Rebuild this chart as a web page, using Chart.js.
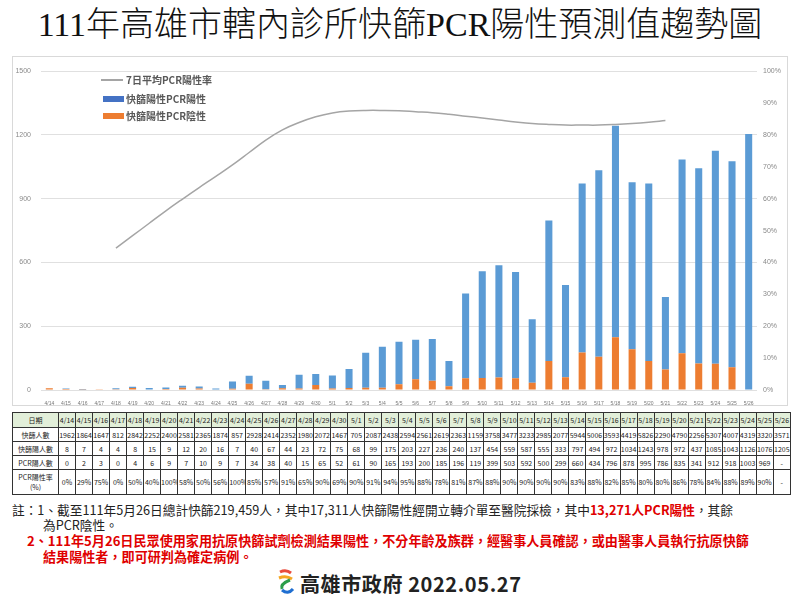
<!DOCTYPE html>
<html>
<head>
<meta charset="utf-8">
<script src="https://cdn.jsdelivr.net/npm/chart.js@4.4.0/dist/chart.umd.min.js"></script>
<style>
  body { margin: 0; width: 800px; height: 600px; background: #fff; position: relative; overflow: hidden;
         font-family: "Noto Sans CJK TC", "Noto Sans", sans-serif; }
  #title { position: absolute; left: 0; top: 3px; width: 800px; text-align: center; font-size: 34px;
           font-family: "Liberation Serif", "Noto Sans CJK TC", serif; font-weight: 300; color: #111; line-height: 44px; }
  #box { position: absolute; left: 12px; top: 56px; width: 774px; height: 348px; border: 1px solid #d9d9d9; }
  #chartWrap { position: absolute; left: 0; top: 0; width: 774px; height: 348px; }
  .lg { position: absolute; font-size: 10px; font-weight: bold; color: #595959; line-height: 12px; white-space: nowrap; }
  .sw { position: absolute; }
  #tbl { position: absolute; left: 12px; top: 412px; border-collapse: collapse; table-layout: fixed; width: 779px; }
  #tbl td { border: 1px solid #333; font-size: 7px; text-align: center; padding: 0; color: #222; overflow: hidden; white-space: nowrap; }
  #tbl tr.hd td { background: #e2efd9; }
  .note { position: absolute; font-size: 12.7px; color: #222; white-space: nowrap; line-height: 16px; }
  .red { color: #e00000; font-weight: bold; }
  .note.red { font-size: 13.1px; }
  #footer { position: absolute; left: 300px; top: 569px; font-size: 20px; font-weight: bold; color: #222; letter-spacing: 0.6px; }
</style>
</head>
<body>
<div id="title">111年高雄市轄內診所快篩PCR陽性預測值趨勢圖</div>
<div id="box">
  <div id="chartWrap"><canvas id="myChart"></canvas></div>
  <div class="sw" style="left:88px;top:22px;width:22px;height:2px;background:#a5a5a5"></div>
  <div class="lg" style="left:113px;top:17px">7日平均PCR陽性率</div>
  <div class="sw" style="left:90px;top:39px;width:21px;height:6px;background:#4472c4"></div>
  <div class="lg" style="left:113px;top:36px">快篩陽性PCR陽性</div>
  <div class="sw" style="left:90px;top:56px;width:21px;height:6px;background:#ed7d31"></div>
  <div class="lg" style="left:113px;top:53px">快篩陽性PCR陰性</div>
</div>
<table id="tbl"></table>
<div class="note" style="left:12px;top:502px">註：1、截至111年5月26日總計快篩219,459人，其中17,311人快篩陽性經開立轉介單至醫院採檢，其中<span class="red">13,271人PCR陽性</span>，其餘</div>
<div class="note" style="left:43px;top:517px">為PCR陰性。</div>
<div class="note red" style="left:27px;top:533px">2、111年5月26日民眾使用家用抗原快篩試劑檢測結果陽性，不分年齡及族群，經醫事人員確認，或由醫事人員執行抗原快篩</div>
<div class="note red" style="left:43px;top:549px">結果陽性者，即可研判為確定病例。</div>
<svg style="position:absolute;left:276px;top:569px" width="20" height="27" viewBox="0 0 20 27">
  <path d="M4 3 Q10 0 15 4" stroke="#e94b3c" stroke-width="3" fill="none"/>
  <path d="M3 9 Q10 6 16 10" stroke="#f5a623" stroke-width="3" fill="none"/>
  <path d="M14 11 Q4 15 6 20" stroke="#2a9d4a" stroke-width="3" fill="none"/>
  <path d="M6 21 Q12 26 17 20" stroke="#1f6fd1" stroke-width="3" fill="none"/>
</svg>
<div id="footer">高雄市政府 2022.05.27</div>

<script>
// dates and table rows
var dates = ['4/14','4/15','4/16','4/17','4/18','4/19','4/20','4/21','4/22','4/23','4/24','4/25','4/26','4/27','4/28','4/29','4/30',
  '5/1','5/2','5/3','5/4','5/5','5/6','5/7','5/8','5/9','5/10','5/11','5/12','5/13','5/14','5/15','5/16','5/17','5/18','5/19','5/20',
  '5/21','5/22','5/23','5/24','5/25','5/26'];
var rapidTested = [1962,1864,1647,812,2842,2252,2400,2581,2365,1874,857,2928,2414,2352,1980,2072,1467,
  705,2087,2438,2594,2561,2619,2363,1159,3758,3477,3233,2985,2077,5944,5006,3593,4419,5826,2290,4790,
  2256,5307,4007,4319,3320,3571];
var rapidPositive = [8,7,4,4,8,15,9,12,20,16,7,40,67,44,23,72,75,
  68,99,175,203,227,236,240,137,454,559,587,555,333,797,494,972,1034,1243,978,972,
  437,1085,1043,1126,1076,1205];
var pcrPositive = ['0','2','3','0','4','6','9','7','10','9','7','34','38','40','15','65','52',
  '61','90','165','193','200','185','196','119','399','503','592','500','299','660','434','796','878','995','786','835',
  '341','912','918','1003','969','-'];
var pcrRate = ['0%','29%','75%','0%','50%','40%','100%','58%','50%','56%','100%','85%','57%','91%','65%','90%','69%',
  '90%','91%','94%','95%','88%','78%','81%','87%','88%','90%','90%','90%','90%','83%','88%','82%','85%','80%','80%','86%',
  '78%','84%','88%','89%','90%','-'];

// bar heights as drawn in the chart
var barPcrNeg = [8,5,1,4,4,9,0,5,10,7,0,6,29,4,8,7,23,
  7,9,10,10,27,51,44,18,55,56,59,55,34,137,60,176,156,248,192,137,
  96,173,125,123,107,0];
var barPcrPos = [0,2,3,0,4,6,9,7,10,9,7,34,38,40,15,65,52,
  61,90,165,193,200,185,196,119,399,503,528,500,299,660,434,796,878,995,786,835,
  341,912,918,1003,969,1205];
// 7-day average PCR positive rate (%)
var avgRate = [null,null,null,null,44.5,48.4,52.3,56.2,59.9,63.5,67,70.6,74.5,78.4,81.6,83.9,85.7,
  86.9,87.5,87.7,87.7,87.6,87.3,87,86.5,85.9,85.3,84.7,84.1,83.6,83.3,83.1,83.1,83.1,83.3,83.6,84,
  84.5,null,null,null,null,null];

// build table
var tbl = document.getElementById('tbl');
var html = '<colgroup><col style="width:46px">';
for (var i = 0; i < dates.length; i++) html += '<col>';
html += '</colgroup>';
function row(label, arr, cls, h) {
  var s = '<tr class="' + cls + '" style="height:' + h + 'px"><td>' + label + '</td>';
  for (var i = 0; i < arr.length; i++) s += '<td>' + arr[i] + '</td>';
  return s + '</tr>';
}
html += row('日期', dates, 'hd', 15);
html += row('快篩人數', rapidTested, '', 14);
html += row('快篩陽人數', rapidPositive, '', 14);
html += row('PCR陽人數', pcrPositive, '', 14);
html += row('PCR陽性率<br>(%)', pcrRate, '', 25);
tbl.innerHTML = html;

var ctx = document.getElementById('myChart').getContext('2d');
window.myChart = new Chart(ctx, {
  type: 'bar',
  data: {
    labels: dates,
    datasets: [{
      type: 'line',
      label: '7日平均PCR陽性率',
      data: avgRate,
      yAxisID: 'y1',
      borderColor: '#a5a5a5',
      borderWidth: 1.5,
      pointRadius: 0,
      tension: 0.4,
      fill: false,
      order: 0
    }, {
      label: '快篩陽性PCR陰性',
      data: barPcrNeg,
      backgroundColor: '#ed7d31',
      yAxisID: 'y',
      order: 1
    }, {
      label: '快篩陽性PCR陽性',
      data: barPcrPos,
      backgroundColor: '#5b9bd5',
      yAxisID: 'y',
      order: 2
    }]
  },
  options: {
    responsive: true,
    maintainAspectRatio: false,
    animation: false,
    layout: { padding: { top: 8, bottom: 0, left: 0, right: 0 } },
    datasets: { bar: { barPercentage: 0.9, categoryPercentage: 0.47 } },
    plugins: { legend: { display: false }, tooltip: { enabled: false } },
    scales: {
      x: {
        stacked: true,
        grid: { display: false },
        border: { display: false },
        ticks: { font: { size: 5 }, color: '#777', maxRotation: 0, autoSkip: false, padding: 3 },
        afterFit: function (s) { s.height = 15; }
      },
      y: {
        stacked: true,
        min: 0, max: 1500,
        ticks: { stepSize: 300, font: { size: 7 }, color: '#8a8a8a', padding: 10,
                 callback: function (v) { return String(v); } },
        grid: { color: '#e0e0e0', drawTicks: false },
        border: { display: false },
        afterFit: function (s) { s.width = 28; }
      },
      y1: {
        position: 'right',
        min: 0, max: 100,
        ticks: { stepSize: 10, font: { size: 7 }, color: '#8a8a8a', padding: 6,
                 callback: function (v) { return v + '%'; } },
        grid: { display: false, drawTicks: false },
        border: { display: false },
        afterFit: function (s) { s.width = 30; }
      }
    }
  }
});
</script>
</body>
</html>
